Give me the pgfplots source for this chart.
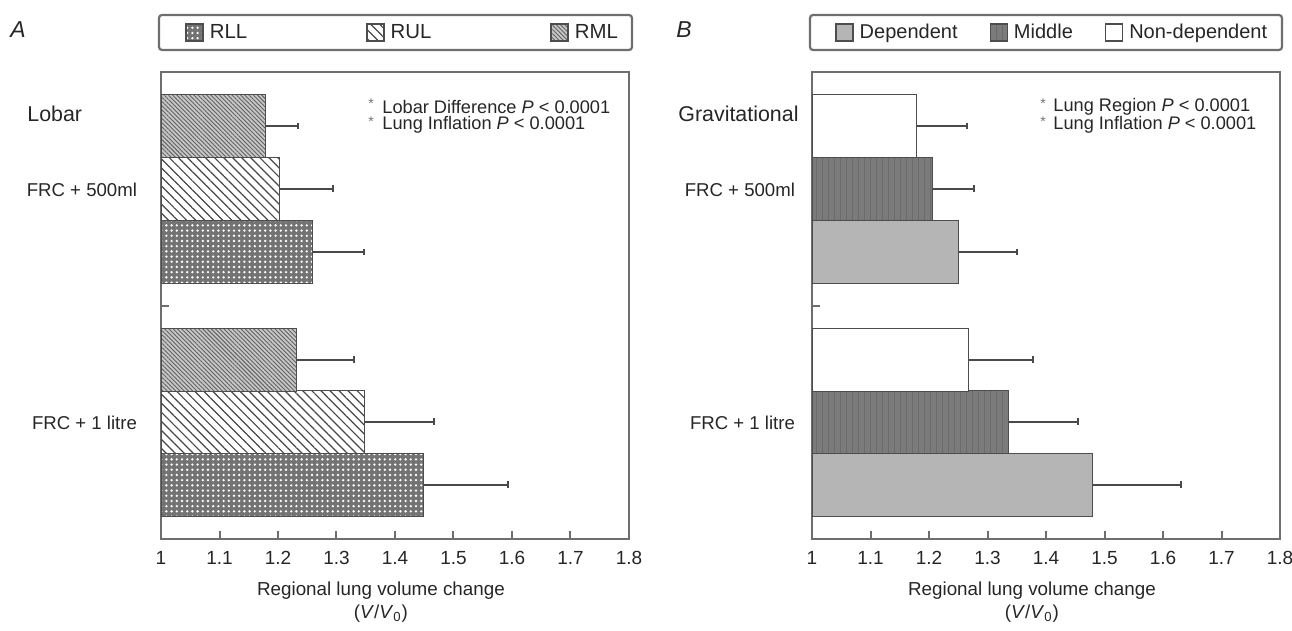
\documentclass[border=0pt]{standalone}
\usepackage{fontspec}
\setmainfont{Liberation Sans}
\usepackage{pgfplots}
\pgfplotsset{compat=1.18}
\usetikzlibrary{patterns.meta}

\definecolor{framegray}{HTML}{6E6E6E}
\definecolor{edgegray}{HTML}{4D4D4D}
\definecolor{depgray}{HTML}{B5B5B5}
\definecolor{midgray}{HTML}{7B7B7B}
\definecolor{errgray}{HTML}{4A4A4A}

% bar fills
\tikzset{
  rll/.style={draw=edgegray, fill=black!55,
    postaction={pattern={Dots[distance=2.6pt, radius=0.65pt]}, pattern color=white}},
  rul/.style={draw=edgegray, fill=white,
    postaction={pattern={Lines[angle=-45, distance=3.2pt, line width=0.6pt]}, pattern color=black!72}},
  rml/.style={draw=edgegray, fill=black!22,
    postaction={pattern={Lines[angle=-45, distance=1.5pt, line width=0.45pt]}, pattern color=black!62}},
  dep/.style={draw=edgegray, fill=depgray},
  mid/.style={draw=edgegray, fill=midgray,
    postaction={pattern={Lines[angle=90, distance=3pt, line width=0.4pt]}, pattern color=black!58}},
  nondep/.style={draw=edgegray, fill=white},
}

\pgfplotsset{
  lungaxis/.style={
    scale only axis, width=234pt, height=233.5pt, anchor=south west,
    xmin=1, xmax=1.8, ymin=72, ymax=539, y dir=reverse,
    xtick={1,1.1,1.2,1.3,1.4,1.5,1.6,1.7,1.8},
    xticklabels={1,1.1,1.2,1.3,1.4,1.5,1.6,1.7,1.8},
    ytick={189.5,422.5},
    yticklabels={FRC + 500ml,FRC + 1 litre},
    ytick style={draw=none},
    xtick align=inside, major tick length=4pt,
    xtick pos=bottom, ytick pos=left,
    axis line style={framegray, line width=1.1pt},
    every tick/.style={framegray, line width=1pt},
    tick label style={font=\fontsize{9.5}{11}\selectfont, text=black!85},
    x tick label style={yshift=-2.5pt},
    /pgf/number format/assume math mode=true,
    xbar, bar width=63, bar shift=0pt,
    error bars/x dir=plus, error bars/x explicit,
    error bars/error mark=|,
    error bars/error bar style={draw=errgray, line width=1pt},
    error bars/error mark options={draw=errgray, line width=1pt, mark size=1.7pt},
    xlabel={Regional lung volume change\\(\textit{V}/\textit{V}\textsubscript{0})},
    xlabel style={at={(axis description cs:0.47,0)}, anchor=north, yshift=-21pt,
      align=center, font=\fontsize{9.4}{11.5}\selectfont, inner sep=0pt, text=black!85},
    legend columns=3,
    legend cell align=left,
    legend image code/.code={\draw[##1, line width=0.7pt] (0pt,-4.25pt) rectangle (8.5pt,4.25pt);},
    legend style={draw=none, fill=none, inner sep=0pt, anchor=west,
      nodes={inner sep=0pt, text=black!85},
      /tikz/every odd column/.append style={column sep=3pt}},
    % short inward tick between the two inflation groups
    extra description/.code={
      \draw[framegray, line width=1pt] (axis description cs:0,0.4989) -- ++(4pt,0pt);
    },
  }
}

\begin{document}
\begin{tikzpicture}
\path[use as bounding box] (0pt,0pt) rectangle (646pt,-315.5pt);

% Panel A: lobar
\begin{axis}[lungaxis, at={(80.5pt,-269.5pt)},
  y tick label style={font=\fontsize{9.3}{11}\selectfont, xshift=-4.5pt},
  legend style={at={(axis description cs:0.0513,1.0846)},
    font=\fontsize{10.2}{12}\selectfont,
    /tikz/every even column/.append style={column sep=59.5pt}}]
\addplot[rll] coordinates {(1.259,252) +- (0.088,0) (1.449,484.5) +- (0.145,0)};
\addlegendentry{RLL}
\addplot[rul] coordinates {(1.202,188.5) +- (0.092,0) (1.347,421.5) +- (0.119,0)};
\addlegendentry{RUL}
\addplot[rml] coordinates {(1.178,126) +- (0.057,0) (1.231,359.5) +- (0.099,0)};
\addlegendentry{RML}
\end{axis}

% Panel B: gravitational
\begin{axis}[lungaxis, at={(406pt,-269.5pt)},
  y tick label style={font=\fontsize{9.3}{11}\selectfont, xshift=-1pt},
  legend style={at={(axis description cs:0.049,1.0846)},
    font=\fontsize{10}{12}\selectfont,
    /tikz/every even column/.append style={column sep=16pt}}]
\addplot[dep] coordinates {(1.250,252) +- (0.101,0) (1.480,484.5) +- (0.150,0)};
\addlegendentry{Dependent}
\addplot[mid] coordinates {(1.205,188.5) +- (0.072,0) (1.335,421.5) +- (0.120,0)};
\addlegendentry{Middle}
\addplot[nondep] coordinates {(1.178,126) +- (0.087,0) (1.268,359.5) +- (0.110,0)};
\addlegendentry{Non-dependent}
\end{axis}

\begin{scope}[x=0.5pt, y=-0.5pt]
  % legend frames
  \draw[framegray, line width=1.1pt, rounded corners=1.5pt] (159,15) rectangle (632,50);
  \draw[framegray, line width=1.1pt, rounded corners=1.5pt] (810,15) rectangle (1282,50);
  % panel letters
  \node[font=\fontsize{11.5}{13}\selectfont\itshape, text=black!85] at (18,30) {A};
  \node[font=\fontsize{11.5}{13}\selectfont\itshape, text=black!85] at (684,30) {B};
  % group headings
  \node[anchor=west, inner sep=0pt, font=\fontsize{10.7}{12}\selectfont, text=black!85] at (27,114) {Lobar};
  \node[anchor=west, inner sep=0pt, font=\fontsize{10.7}{12}\selectfont, text=black!85] at (678,114) {Gravitational};
  % statistics
  \begin{scope}[every node/.style={anchor=west, inner sep=0pt, font=\fontsize{9.1}{11}\selectfont, text=black!85}]
    \node at (382,107) {Lobar Difference \textit{P} < 0.0001};
    \node at (382,125) {Lung Inflation \textit{P} < 0.0001};
    \node at (1053,107) {Lung Region \textit{P} < 0.0001};
    \node at (1053,125) {Lung Inflation \textit{P} < 0.0001};
  \end{scope}
  \begin{scope}[every node/.style={inner sep=0pt, font=\fontsize{7}{8}\selectfont, text=black!55}]
    \node at (371,104) {*};
    \node at (371,122) {*};
    \node at (1043,104) {*};
    \node at (1043,122) {*};
  \end{scope}
\end{scope}
\end{tikzpicture}
\end{document}
